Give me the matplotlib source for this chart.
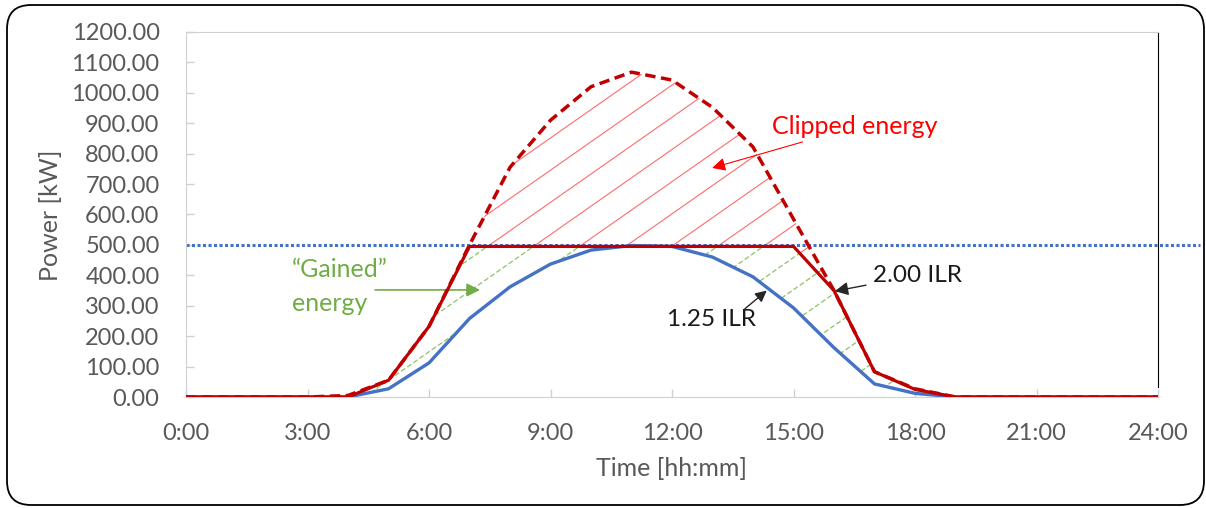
import numpy as np
import matplotlib.pyplot as plt
from matplotlib.patches import FancyBboxPatch

plt.rcParams['font.family'] = ['Lato', 'DejaVu Sans']

# data, one value per hour
hours = np.arange(25)
dc_power_200 = [0, 0, 0, 0, 5, 55, 232, 500, 755, 910, 1020, 1068, 1042,
                952, 822, 585, 350, 83, 27, 0, 0, 0, 0, 0, 0]
ac_power_200 = [0, 0, 0, 0, 0, 55, 232, 495, 495, 495, 495, 495, 495,
                495, 495, 495, 350, 83, 25, 0, 0, 0, 0, 0, 0]
ac_power_125 = [0, 0, 0, 0, 0, 27, 112, 258, 362, 437, 483, 498, 495,
                460, 395, 293, 162, 43, 12, 0, 0, 0, 0, 0, 0]
inverter_limit = 500

x_ticks = np.arange(0, 25, 3)
x_tick_labels = ['%i:00' % h for h in x_ticks]
y_ticks = np.arange(0, 1201, 100)

BLUE = '#4472C4'
DARK_RED = '#C00000'
GREEN = '#70AD47'
GREY = '#595959'

fig = plt.figure(figsize=(12.06, 5.08), dpi=100)

#rounded frame around the whole picture
bg = fig.add_axes([0, 0, 1, 1], zorder=-1)
bg.set_xlim(0, 1206)
bg.set_ylim(508, 0)
bg.axis('off')
bg.add_patch(FancyBboxPatch((7, 5), 1197, 500,
                            boxstyle='round,pad=0,rounding_size=24',
                            fill=False, ec='black', lw=1.3))

ax = fig.add_axes([186 / 1206, 1 - 397 / 508, 972 / 1206, 365 / 508])
ax.set_facecolor('none')
ax.set_xlim(0, 24)
ax.set_ylim(0, 1200)

#invisible regions used to clip the hatch lines
red_zone = ax.fill_between(hours, ac_power_200, dc_power_200,
                           facecolor='none', lw=0)
green_zone = ax.fill_between(hours, ac_power_125, ac_power_200,
                             facecolor='none', lw=0)

slope = np.tan(np.radians(35)) * 972 / 365
xs = np.array([-0.2, 1.2])
for k in range(-40, 40):
    x0 = 0.361 + k * 0.0473
    ys = slope * (xs - x0) + 0.419
    l1, = ax.plot(xs, ys, color='#FF6B6B', lw=0.8, transform=ax.transAxes, zorder=1)
    l1.set_clip_path(red_zone.get_paths()[0], ax.transData)
    l2, = ax.plot(xs, ys, color='#8CC266', lw=0.9, ls=(0, (4, 2)),
                  transform=ax.transAxes, zorder=1)
    l2.set_clip_path(green_zone.get_paths()[0], ax.transData)

ax.axhline(inverter_limit, xmin=0, xmax=1.043, color=BLUE, lw=2.2,
           ls=(0, (1, 0.8)), clip_on=False, zorder=2)
ax.plot(hours, ac_power_125, color=BLUE, lw=2.4, zorder=3)
ax.plot(hours, ac_power_200, color=DARK_RED, lw=2.3, zorder=4)
ax.plot(hours, dc_power_200, color=DARK_RED, lw=2.5, ls=(0, (3, 1.6)), zorder=5)

#axes styling
ax.set_xticks(x_ticks)
ax.set_xticklabels(x_tick_labels)
ax.set_yticks(y_ticks)
ax.set_yticklabels(['%.2f' % v for v in y_ticks])
ax.tick_params(direction='in', length=6, width=1, color='#D0D0D0',
               labelsize=17, labelcolor=GREY)
ax.tick_params(axis='y', pad=19)
ax.tick_params(axis='x', pad=19)
for side in ['left', 'bottom', 'top']:
    ax.spines[side].set_color('#D0D0D0')
ax.spines['right'].set_color('black')
ax.spines['right'].set_bounds(33, 1200)

fig.text(50 / 1206, 1 - 215 / 508, 'Power [kW]', rotation=90, ha='center',
         va='center', fontsize=18, color=GREY)
fig.text(672 / 1206, 1 - 469 / 508, 'Time [hh:mm]', ha='center',
         va='center', fontsize=18, color=GREY)

#annotations
ax.annotate('Clipped energy', xy=(12.99, 753), xytext=(14.47, 888),
            ha='left', va='center', fontsize=18, color='#FF0000',
            arrowprops=dict(arrowstyle='-|>', color='#FF0000', lw=0.8,
                            mutation_scale=20, shrinkA=2, shrinkB=0))
ax.text(2.62, 394, '\u201cGained\u201d', ha='left', va='baseline',
        fontsize=18, color=GREEN)
ax.text(2.62, 283, 'energy', ha='left', va='baseline', fontsize=18, color=GREEN)
ax.annotate('', xy=(7.26, 352), xytext=(4.67, 352),
            arrowprops=dict(arrowstyle='-|>', color=GREEN, lw=1.2,
                            mutation_scale=20, shrinkA=0, shrinkB=0))
ax.annotate('2.00 ILR', xy=(16.02, 348), xytext=(16.96, 400),
            ha='left', va='center', fontsize=17.5, color='#1A1A1A',
            arrowprops=dict(arrowstyle='-|>', color='#262626', lw=1,
                            mutation_scale=20, shrinkA=3, shrinkB=0))
ax.text(11.88, 255, '1.25 ILR', ha='left', va='center', fontsize=17.5,
        color='#1A1A1A')
ax.annotate('', xy=(14.34, 350), xytext=(13.8, 290),
            arrowprops=dict(arrowstyle='-|>', color='#262626', lw=1,
                            mutation_scale=17, shrinkA=0, shrinkB=0))

fig.savefig('out.png', dpi=100)
